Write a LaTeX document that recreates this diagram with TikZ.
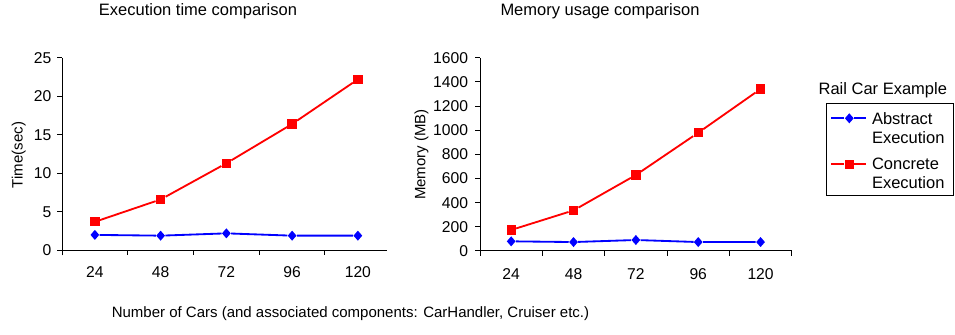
\documentclass[tikz,border=0pt]{standalone}
\usepackage{fontspec}
\setmainfont{Liberation Sans}
\setsansfont{Liberation Sans}
\usetikzlibrary{shapes.geometric}

\tikzset{
  absmark/.style={diamond, fill=blue, draw=none, inner sep=0pt, minimum width=5.4pt, minimum height=6.2pt},
  conmark/.style={rectangle, fill=red, draw=none, inner sep=0pt, minimum size=5.6pt},
  absline/.style={blue, line width=1.1pt},
  conline/.style={red, line width=1.1pt},
  ticklabel/.style={font=\fontsize{9.4}{11}\selectfont, inner sep=0pt},
  axislabel/.style={font=\fontsize{9}{11}\selectfont, inner sep=0pt, rotate=90},
}

\begin{document}
\begin{tikzpicture}[x=0.6pt, y=0.6pt, font=\fontsize{9.9}{11.4}\selectfont]
        \useasboundingbox (0,0) rectangle (955,335);
        % titles
        \node[anchor = base] (title time) at (198,319) {Execution time comparison};
        \node[anchor = base] (title mem) at (600,319) {Memory usage comparison};
        \node[anchor = base, font=\fontsize{9}{11}\selectfont] (cars label) at (350.5,17.3) {Number of Cars (and associated components: CarHandler, Cruiser etc.)};
        \node[axislabel] (time label) at (18.8,180) {Time(sec)};
        \node[axislabel] (mem label) at (421.5,180.5) {Memory (MB)};

        % execution time chart
        \begin{scope}[shift={(62,84.7)}, x=39.45pt, y=4.62pt]
          % axis
          \draw[line width=0.6pt] (0,0) -- (4.94,0);
          \draw[line width=0.6pt] (0,-3pt) -- (0,25);
          \foreach \y in {0,5,...,25} {
            \draw[line width=0.6pt] (0,\y) -- (-3pt,\y);
            \node[ticklabel, anchor = east] (ty\y) at (-6.2pt,\y) {\y};
          }
          \foreach \x [count=\i] in {24,48,72,96,120} {
            \node[ticklabel, anchor = north] (tx\i) at (\i-0.5,-9.8pt) {\x};
          }
          \foreach \x in {1,2,3,4} {
            \draw[line width=0.6pt] (\x,0) -- (\x,-3pt);
          }
          % data
          \foreach \y [count=\i] in {2.0,1.9,2.2,1.9,1.9} {
            \node[absmark] (ta\i) at (\i-0.5,\y) {};
          }
          \foreach \y [count=\i] in {3.7,6.6,11.3,16.4,22.2} {
            \node[conmark] (tc\i) at (\i-0.5,\y) {};
          }
          \draw[absline] (ta1) -- (ta2) -- (ta3) -- (ta4) -- (ta5);
          \draw[conline] (tc1) -- (tc2) -- (tc3) -- (tc4) -- (tc5);
        \end{scope}

        % memory usage chart
        \begin{scope}[shift={(480,84)}, x=37.41pt, y=0.072486pt]
          % axis
          \draw[line width=0.6pt] (0,0) -- (5,0);
          \draw[line width=0.6pt] (0,-3pt) -- (0,1600);
          \foreach \y in {0,200,...,1600} {
            \draw[line width=0.6pt] (0,\y) -- (-3pt,\y);
            \node[ticklabel, anchor = east] (my\y) at (-7pt,\y) {\y};
          }
          \foreach \x [count=\i] in {24,48,72,96,120} {
            \draw[line width=0.6pt] (\i,0) -- (\i,-3pt);
            \node[ticklabel, anchor = north] (mx\i) at (\i-0.5,-10.4pt) {\x};
          }
          % data
          \foreach \y [count=\i] in {80,74,91,74,74} {
            \node[absmark] (ma\i) at (\i-0.5,\y) {};
          }
          \foreach \y [count=\i] in {174,336,629,979,1341} {
            \node[conmark] (mc\i) at (\i-0.5,\y) {};
          }
          \draw[absline] (ma1) -- (ma2) -- (ma3) -- (ma4) -- (ma5);
          \draw[conline] (mc1) -- (mc2) -- (mc3) -- (mc4) -- (mc5);
        \end{scope}

        % legend
        \node[anchor = base] (legend title) at (882.8,240) {Rail Car Example};
        \draw[line width=0.6pt] (826,139) rectangle (953,231.7);
        \coordinate (la west) at (831.3,216.7);
        \coordinate (la east) at (866,216.7);
        \node[absmark] (la) at (849.3,216.7) {};
        \draw[absline] (la west) -- (la) -- (la east);
        \node[anchor = north west, align = left, inner sep=0pt] (la text) at (871.7,223) {Abstract\\Execution};
        \coordinate (lc west) at (831.3,170.7);
        \coordinate (lc east) at (866,170.7);
        \node[conmark] (lc) at (849.3,170.7) {};
        \draw[conline] (lc west) -- (lc) -- (lc east);
        \node[anchor = north west, align = left, inner sep=0pt] (lc text) at (871.7,177) {Concrete\\Execution};
\end{tikzpicture}
\end{document}
